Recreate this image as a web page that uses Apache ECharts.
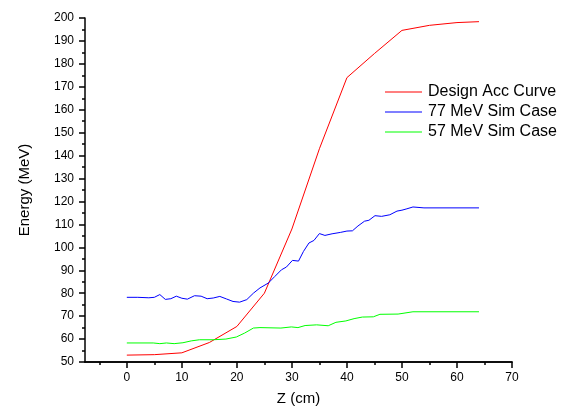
<!DOCTYPE html>
<html>
<head>
<meta charset="utf-8">
<script src="https://cdn.jsdelivr.net/npm/echarts@6/dist/echarts.min.js"></script>
<style>
html,body{margin:0;padding:0;background:#fff;}
#chart{width:569px;height:414px;}
</style>
</head>
<body>
<div id="chart"></div>
<script>
var seriesNames = ['Design Acc Curve', '77 MeV Sim Case', '57 MeV Sim Case'];

var zDesign = [0, 5, 10, 15, 20, 25, 30, 35, 40, 45, 50, 55, 60, 64];
var eDesign = [53, 53.2, 54, 58.5, 65.5, 80, 108, 143, 174, 184.5, 194.6, 196.8, 198, 198.4];

var z77 = [0, 2, 4, 5, 6, 7, 8, 9, 10, 11, 12.3, 13.5, 14.6, 15.7, 16.9, 18.1, 19.3, 20.5, 21.8, 23, 24.2, 25.7, 26.9, 28.1, 29, 30.1, 31.2, 32.1, 33.1, 34, 35, 36, 37.3, 38.8, 40, 41, 42, 43.2, 44, 45.1, 46.3, 47.8, 49.1, 50, 50.9, 52, 54, 64];
var e77 = [78.2, 78.2, 78.0, 78.2, 79.4, 77.3, 77.6, 78.7, 77.8, 77.4, 78.9, 78.7, 77.6, 77.9, 78.6, 77.5, 76.4, 76.1, 77.2, 80, 82.3, 84.4, 87.3, 90.2, 91.4, 94.3, 94.0, 98.2, 101.9, 103, 106, 105.2, 105.9, 106.5, 107.1, 107.2, 109.3, 111.4, 111.8, 113.8, 113.5, 114.2, 115.8, 116.2, 116.8, 117.6, 117.2, 117.2];

var z57 = [0, 4.8, 6, 7.2, 8.6, 10.2, 11.7, 13.2, 15.7, 18, 19.9, 21.4, 23, 24.2, 28, 29.9, 31.1, 32.4, 34.5, 36.6, 38, 39.8, 41.3, 42.8, 44.8, 46, 49.3, 52, 64];
var e57 = [58.3, 58.3, 58.0, 58.3, 58.0, 58.4, 59.2, 59.7, 59.7, 60, 60.9, 62.6, 64.8, 65.0, 64.8, 65.3, 65.0, 65.9, 66.2, 65.8, 67.3, 67.9, 68.9, 69.6, 69.7, 70.8, 70.9, 71.9, 71.9];

var xMajorTicks = [0, 10, 20, 30, 40, 50, 60, 70];
var xMinorTicks = [-5, 5, 15, 25, 35, 45, 55, 65];

function pairs(xs, ys) { return xs.map(function (x, i) { return [x, ys[i]]; }); }

var FONT = '"Liberation Sans", Arial, sans-serif';
var chart = echarts.init(document.getElementById('chart'), null, {renderer: 'canvas'});
function axisLine() { return {show: true, onZero: false, lineStyle: {color: '#000', width: 1.5}}; }
chart.setOption({
  animation: false,
  backgroundColor: '#fff',
  textStyle: {fontFamily: FONT},
  grid: {left: 85, right: 57, top: 18, bottom: 52, containLabel: false, outerBoundsMode: 'none'},
  legend: {
    orient: 'vertical', left: 380, top: 79,
    icon: 'rect',
    itemWidth: 37, itemHeight: 1, itemGap: 4,
    textStyle: {fontSize: 16, color: '#000', fontFamily: FONT, padding: [0, 0, 0, 1]},
    data: seriesNames
  },
  xAxis: [{
    type: 'value', min: -7.6, max: 70,
    name: 'Z (cm)', nameLocation: 'middle', nameGap: 29,
    nameTextStyle: {fontSize: 15, color: '#000', fontFamily: FONT},
    axisLine: axisLine(),
    axisTick: {show: true, length: 6, customValues: xMajorTicks, lineStyle: {color: '#000', width: 1.5}},
    axisLabel: {show: true, customValues: xMajorTicks, margin: 10, fontSize: 12, color: '#000', fontFamily: FONT},
    splitLine: {show: false}
  }, {
    type: 'value', min: -7.6, max: 70, position: 'bottom',
    axisLine: axisLine(),
    axisTick: {show: true, length: 3, customValues: xMinorTicks, lineStyle: {color: '#000', width: 1.5}},
    axisLabel: {show: false},
    splitLine: {show: false}
  }],
  yAxis: {
    type: 'value', min: 50, max: 200, interval: 10,
    name: 'Energy (MeV)', nameLocation: 'middle', nameGap: 53,
    nameTextStyle: {fontSize: 15, color: '#000', fontFamily: FONT},
    axisLine: axisLine(),
    axisTick: {show: true, length: 6, lineStyle: {color: '#000', width: 1.5}},
    minorTick: {show: true, splitNumber: 2, length: 3, lineStyle: {color: '#000', width: 1.5}},
    axisLabel: {margin: 11, fontSize: 12, color: '#000', fontFamily: FONT},
    splitLine: {show: false}
  },
  series: [{
    name: seriesNames[0], type: 'line', symbol: 'none', xAxisIndex: 0,
    lineStyle: {color: '#ff0000', width: 1}, itemStyle: {color: '#ff0000'},
    data: pairs(zDesign, eDesign)
  }, {
    name: seriesNames[1], type: 'line', symbol: 'none', xAxisIndex: 0,
    lineStyle: {color: '#0000ff', width: 1}, itemStyle: {color: '#0000ff'},
    data: pairs(z77, e77)
  }, {
    name: seriesNames[2], type: 'line', symbol: 'none', xAxisIndex: 0,
    lineStyle: {color: '#00ff00', width: 1}, itemStyle: {color: '#00ff00'},
    data: pairs(z57, e57)
  }]
});
</script>
</body>
</html>
